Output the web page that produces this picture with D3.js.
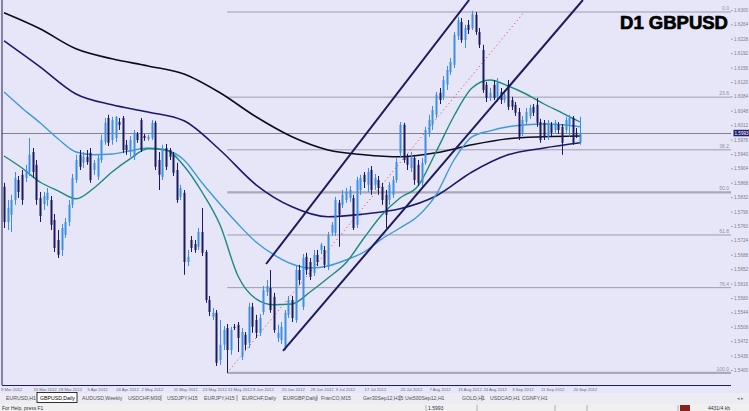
<!DOCTYPE html>
<html><head><meta charset="utf-8">
<script src="https://cdn.jsdelivr.net/npm/d3@7"></script>
<style>html,body{margin:0;padding:0;background:#e6e6f8;overflow:hidden}svg{display:block}</style>
</head><body><svg id="c" width="749" height="411"></svg>
<script>
// ---------- data ----------
const opens=[1.5858,1.5770,1.5788,1.5825,1.5875,1.5888,1.5880,1.5895,1.5945,1.5913,
1.5830,1.5815,1.5825,1.5825,1.5775,1.5725,1.5700,1.5738,1.5770,1.5813,
1.5875,1.5938,1.5918,1.5933,1.5943,1.5900,1.5883,1.5925,1.5970,1.6030,
1.5975,1.5980,1.6020,1.6030,1.5963,1.5945,1.5933,1.5990,1.6025,1.5985,
1.5978,1.5980,1.6018,1.5925,1.5883,1.5955,1.5950,1.5938,1.5900,1.5833,
1.5843,1.5670,1.5725,1.5715,1.5708,1.5745,1.5695,1.5575,1.5533,1.5543,
1.5425,1.5463,1.5505,1.5450,1.5508,1.5513,1.5433,1.5488,1.5468,1.5558,
1.5525,1.5493,1.5545,1.5595,1.5605,1.5583,1.5480,1.5475,1.5458,1.5538,
1.5575,1.5525,1.5650,1.5558,1.5683,1.5670,1.5643,1.5688,1.5700,1.5700,
1.5658,1.5743,1.5743,1.5818,1.5813,1.5825,1.5830,1.5830,1.5763,1.5850,
1.5888,1.5863,1.5900,1.5863,1.5875,1.5858,1.5838,1.5825,1.5838,1.5875,
1.5943,1.6013,1.5933,1.5905,1.5930,1.5913,1.5868,1.5918,1.5993,1.6013,
1.6038,1.6093,1.6083,1.6113,1.6145,1.6163,1.6235,1.6270,1.6225,1.6263,
1.6255,1.6288,1.6245,1.6200,1.6113,1.6080,1.6113,1.6083,1.6095,1.6075,
1.6113,1.6075,1.6063,1.6045,1.5993,1.6020,1.6035,1.6058,1.6063,1.6020,
1.6018,1.5983,1.6013,1.6000,1.6013,1.6008,1.6000,1.6013,1.6030,1.5993,
1.5968];
const highs=[1.5868,1.5825,1.5838,1.5895,1.5885,1.5900,1.5913,1.5980,1.5955,1.5925,
1.5845,1.5845,1.5855,1.5835,1.5790,1.5750,1.5765,1.5780,1.5825,1.5890,
1.5938,1.5950,1.5945,1.5950,1.5955,1.5925,1.5938,1.5988,1.6030,1.6038,
1.6033,1.6035,1.6030,1.6035,1.5975,1.5985,1.6000,1.5995,1.6030,1.5990,
1.5988,1.6025,1.6023,1.5945,1.5963,1.5965,1.5955,1.5945,1.5918,1.5863,
1.5850,1.5700,1.5735,1.5725,1.5755,1.5805,1.5700,1.5585,1.5555,1.5550,
1.5525,1.5510,1.5515,1.5508,1.5515,1.5520,1.5505,1.5495,1.5568,1.5568,
1.5538,1.5540,1.5610,1.5625,1.5650,1.5593,1.5513,1.5520,1.5550,1.5585,
1.5585,1.5660,1.5663,1.5690,1.5693,1.5680,1.5700,1.5700,1.5718,1.5710,
1.5745,1.5770,1.5833,1.5825,1.5850,1.5855,1.5860,1.5838,1.5883,1.5888,
1.5895,1.5905,1.5910,1.5890,1.5885,1.5868,1.5850,1.5870,1.5885,1.5930,
1.6020,1.6018,1.5940,1.5945,1.5938,1.5925,1.5930,1.6008,1.6038,1.6060,
1.6095,1.6105,1.6135,1.6160,1.6180,1.6245,1.6283,1.6280,1.6263,1.6275,
1.6298,1.6295,1.6255,1.6213,1.6120,1.6105,1.6125,1.6130,1.6105,1.6100,
1.6125,1.6083,1.6070,1.6055,1.6035,1.6055,1.6063,1.6065,1.6080,1.6028,
1.6025,1.6025,1.6020,1.6025,1.6020,1.6015,1.6033,1.6038,1.6035,1.6005,
1.6033];
const lows=[1.5755,1.5750,1.5745,1.5813,1.5830,1.5813,1.5870,1.5885,1.5880,1.5813,
1.5770,1.5800,1.5810,1.5750,1.5695,1.5680,1.5685,1.5730,1.5760,1.5805,
1.5868,1.5900,1.5905,1.5913,1.5868,1.5888,1.5875,1.5918,1.5963,1.5960,
1.5963,1.5970,1.6000,1.5943,1.5938,1.5933,1.5925,1.5968,1.5945,1.5973,
1.5973,1.5975,1.5900,1.5850,1.5875,1.5900,1.5925,1.5885,1.5818,1.5825,
1.5638,1.5660,1.5695,1.5693,1.5700,1.5685,1.5568,1.5535,1.5525,1.5410,
1.5413,1.5450,1.5393,1.5438,1.5500,1.5445,1.5425,1.5450,1.5455,1.5493,
1.5480,1.5485,1.5538,1.5585,1.5543,1.5493,1.5470,1.5465,1.5450,1.5530,
1.5520,1.5518,1.5613,1.5550,1.5638,1.5625,1.5635,1.5660,1.5690,1.5655,
1.5650,1.5735,1.5735,1.5708,1.5805,1.5818,1.5820,1.5750,1.5755,1.5838,
1.5855,1.5845,1.5838,1.5850,1.5838,1.5813,1.5755,1.5813,1.5830,1.5868,
1.5930,1.5918,1.5900,1.5895,1.5863,1.5860,1.5860,1.5913,1.5983,1.6000,
1.6030,1.6065,1.6075,1.6100,1.6138,1.6155,1.6225,1.6218,1.6205,1.6240,
1.6250,1.6238,1.6205,1.6093,1.6070,1.6073,1.6075,1.6070,1.6065,1.6068,
1.6050,1.6050,1.6035,1.5975,1.5985,1.6013,1.6028,1.6035,1.6008,1.5968,
1.5975,1.5975,1.5985,1.5993,1.5990,1.5938,1.5993,1.5983,1.5963,1.5980,
1.5963];
const closes=[1.5770,1.5805,1.5825,1.5880,1.5845,1.5825,1.5900,1.5938,1.5895,1.5825,
1.5785,1.5835,1.5843,1.5763,1.5705,1.5688,1.5755,1.5770,1.5813,1.5880,
1.5925,1.5908,1.5933,1.5920,1.5875,1.5918,1.5930,1.5975,1.6018,1.5968,
1.6025,1.6033,1.6013,1.5950,1.5950,1.5975,1.5993,1.5975,1.5950,1.5980,
1.5983,1.6018,1.5908,1.5888,1.5955,1.5908,1.5933,1.5893,1.5825,1.5855,
1.5670,1.5683,1.5705,1.5700,1.5745,1.5693,1.5575,1.5545,1.5543,1.5418,
1.5463,1.5500,1.5450,1.5500,1.5505,1.5480,1.5495,1.5463,1.5558,1.5508,
1.5493,1.5530,1.5600,1.5610,1.5550,1.5500,1.5493,1.5508,1.5543,1.5575,
1.5530,1.5650,1.5625,1.5680,1.5650,1.5633,1.5688,1.5670,1.5713,1.5663,
1.5738,1.5763,1.5825,1.5788,1.5838,1.5845,1.5850,1.5755,1.5875,1.5880,
1.5870,1.5895,1.5850,1.5880,1.5855,1.5825,1.5788,1.5863,1.5875,1.5920,
1.6013,1.5925,1.5913,1.5933,1.5875,1.5868,1.5918,1.6000,1.6025,1.6050,
1.6088,1.6075,1.6125,1.6150,1.6170,1.6238,1.6275,1.6225,1.6255,1.6250,
1.6290,1.6245,1.6213,1.6100,1.6080,1.6093,1.6080,1.6118,1.6075,1.6088,
1.6058,1.6058,1.6043,1.5983,1.6025,1.6045,1.6055,1.6043,1.6018,1.5975,
1.5983,1.6018,1.5993,1.6018,1.6000,1.5968,1.6025,1.6030,1.5968,1.5988,
1.5993];

// moving averages (sampled bar index -> price)
const maSlowIdx=[0,10,20,30,40,50,60,70,80,90,100,110,120,130,140,150,160];
const maBlack=[1.6293,1.6253,1.6203,1.6178,1.6160,1.6140,1.6093,1.6033,1.5983,1.5950,1.5938,1.5933,1.5943,1.5963,1.5978,1.5983,1.5985];
const maNavy=[1.6223,1.6158,1.6090,1.6063,1.6045,1.6023,1.5950,1.5863,1.5808,1.5783,1.5790,1.5803,1.5835,1.5895,1.5938,1.5955,1.5968];
const maFastIdx=[0,5,10,15,20,25,30,35,40,45,50,55,60,65,70,75,80,85,90,95,100,105,110,115,120,125,130,135,140,145,150,155,160];
const maLightBlue=[1.6095,1.6055,1.6018,1.5978,1.5945,1.5938,1.5940,1.5948,1.5955,1.5950,1.5925,1.5868,1.5815,1.5765,1.5720,1.5688,1.5665,1.5655,1.5660,1.5675,1.5695,1.5728,1.5755,1.5785,1.5838,1.5925,1.5983,1.5998,1.6008,1.6013,1.6015,1.6013,1.6008];
const maTeal=[1.5935,1.5905,1.5870,1.5848,1.5828,1.5855,1.5895,1.5928,1.5953,1.5950,1.5910,1.5845,1.5763,1.5635,1.5578,1.5563,1.5565,1.5595,1.5630,1.5668,1.5730,1.5788,1.5830,1.5860,1.5945,1.6035,1.6105,1.6125,1.6110,1.6090,1.6065,1.6043,1.6020];

// channel trend lines [barIndex, price]
const channelUpper=[[72.8,1.5665],[129.2,1.6325]];
const channelLower=[[77.5,1.5448],[160.8,1.6325]];
// fibonacci anchors and levels
const fibLow=[62,1.5393], fibHigh=[144.5,1.6295];
const fibLevels=[0,23.6,38.2,50,61.8,76.4,100];
const fibLabels=["0.0","23.6","38.2","50.0","61.8","76.4","100.0"];

const priceTicks=[1.6300,1.6264,1.6228,1.6192,1.6156,1.6120,1.6084,1.6048,1.6012,1.5976,1.5940,1.5904,1.5868,1.5832,1.5796,1.5760,1.5724,1.5688,1.5652,1.5616,1.5580,1.5544,1.5508,1.5472,1.5436,1.5400];
const dateIdx=[0,9,16,24,32,39,48,56,63,70,78,86,93,101,111,119,127,134,142,150,159];
const dateLabels=["9 Mar 2012","15 Mar 2012","28 Mar 2012","5 Apr 2012","24 Apr 2012","2 May 2012","11 May 2012","23 May 2012","31 May 2012","8 Jun 2012","20 Jun 2012","28 Jun 2012","9 Jul 2012","17 Jul 2012","26 Jul 2012","7 Aug 2012","15 Aug 2012","24 Aug 2012","3 Sep 2012","11 Sep 2012","20 Sep 2012"];
const tabs=["EURUSD,H1","GBPUSD,Daily","AUDUSD,Weekly","USDCHF,M30","USDJPY,H15","EURJPY,H15","EURCHF,Daily","EURGBP,Daily","FranCO,M15","Ger30Sep12,H15","Ust500Sep12,H1","GOLD,H1","USDCAD,H1","CGNFY,H1"];
const tabX=[6,40,82,128,167,204,242,283,321,363,405,462,490,522];
const tabSep=[161,237,317,400,482];

// ---------- drawing ----------
const svg=d3.select('#c');
const R=731, B=385;
const x=d3.scaleLinear().domain([0,160]).range([4,580]);
const y=d3.scaleLinear().domain([1.53625,1.6325]).range([B,0]);
const font="'Liberation Sans',Arial,sans-serif";

svg.append('rect').attr('width',749).attr('height',411).attr('fill','#e6e6f8');
svg.append('defs').append('clipPath').attr('id','clip').append('rect').attr('x',2).attr('y',0).attr('width',R-2).attr('height',B);
const g=svg.append('g').attr('clip-path','url(#clip)');

// fib levels
const fibY=r=>fibHigh[1]-r/100*(fibHigh[1]-fibLow[1]);
fibLevels.forEach((r,k)=>{
  const thick=(r===50||r===100);
  g.append('line').attr('x1',x(fibLow[0])).attr('x2',R).attr('y1',y(fibY(r))).attr('y2',y(fibY(r)))
   .attr('stroke',thick?'#a9a9b8':'#9c9cae').attr('stroke-width',thick?2.2:1);
  svg.append('text').attr('x',R-2).attr('y',y(fibY(r))-2).attr('text-anchor','end')
   .attr('font-family',font).attr('font-size',5).attr('fill','#9090a0').text(fibLabels[k]);
});
// bid line
const bidY=Math.round(y(closes[closes.length-1]))+0.5;
g.append('line').attr('x1',0).attr('x2',R).attr('y1',bidY).attr('y2',bidY).attr('stroke','#80808e').attr('stroke-width',1);
// fib diagonal
g.append('line').attr('x1',x(fibLow[0])).attr('y1',y(fibLow[1])).attr('x2',x(fibHigh[0])).attr('y2',y(fibHigh[1]))
 .attr('stroke','#e03030').attr('stroke-width',1).attr('stroke-dasharray','1,3');

// moving averages
const ln=d3.line().x(d=>x(d[0])).y(d=>y(d[1])).curve(d3.curveMonotoneX);
const mk=(idx,vals)=>idx.map((v,i)=>[v,vals[i]]);
g.append('path').attr('d',ln(mk(maSlowIdx,maBlack))).attr('fill','none').attr('stroke','#0c0c18').attr('stroke-width',1.6);
g.append('path').attr('d',ln(mk(maSlowIdx,maNavy))).attr('fill','none').attr('stroke','#1a1a6a').attr('stroke-width',1.6);
g.append('path').attr('d',ln(mk(maFastIdx,maLightBlue))).attr('fill','none').attr('stroke','#3e9ad6').attr('stroke-width',1.4);
g.append('path').attr('d',ln(mk(maFastIdx,maTeal))).attr('fill','none').attr('stroke','#1c8a7c').attr('stroke-width',1.4);

// candles
const bars=d3.range(opens.length).map(i=>({i,o:opens[i],h:highs[i],l:lows[i],c:closes[i]}));
const bull='#3d8fe6', bear='#1a1a5e';
g.selectAll('line.wick').data(bars).join('line').attr('class','wick')
 .attr('x1',d=>Math.round(x(d.i))+0.5).attr('x2',d=>Math.round(x(d.i))+0.5)
 .attr('y1',d=>y(d.h)).attr('y2',d=>y(d.l))
 .attr('stroke',d=>d.c>=d.o?bull:bear).attr('stroke-width',1);
g.selectAll('rect.body').data(bars).join('rect').attr('class','body')
 .attr('x',d=>Math.round(x(d.i))-0.5).attr('width',2)
 .attr('y',d=>y(Math.max(d.o,d.c))).attr('height',d=>Math.max(1,Math.abs(y(d.o)-y(d.c))))
 .attr('fill',d=>d.c>=d.o?bull:bear);

// channel lines
[channelUpper,channelLower].forEach(c=>{
  g.append('line').attr('x1',x(c[0][0])).attr('y1',y(c[0][1])).attr('x2',x(c[1][0])).attr('y2',y(c[1][1]))
   .attr('stroke','#1c1c5a').attr('stroke-width',2);
});

// frame
svg.append('line').attr('x1',2).attr('x2',2).attr('y1',0).attr('y2',B).attr('stroke','#20204a').attr('stroke-width',1);
svg.append('line').attr('x1',2).attr('x2',R).attr('y1',B+0.5).attr('y2',B+0.5).attr('stroke','#20204a').attr('stroke-width',1);

// right axis
const ax=svg.append('g').attr('transform',`translate(${R},0)`)
 .call(d3.axisRight(y).tickValues(priceTicks).tickFormat(d3.format('.4f')).tickSize(1.5).tickPadding(1.5));
ax.select('.domain').remove();
ax.selectAll('line').attr('stroke','#9090a0');
ax.selectAll('text').attr('font-family',font).attr('font-size',4.6).attr('fill','#7c7c90');
// bid label
const by=y(closes[closes.length-1]);
svg.append('rect').attr('x',733.5).attr('y',by-3).attr('width',15.5).attr('height',6.5).attr('fill','#1e1e6e');
svg.append('text').attr('x',734.5).attr('y',by+1.8).attr('font-family',font).attr('font-size',4.6).attr('fill','#ffffff').text(d3.format('.4f')(closes[closes.length-1]));

// title
svg.append('text').attr('x',728).attr('y',29).attr('text-anchor','end').attr('font-family',font)
 .attr('font-weight','bold').attr('font-size',18.5).attr('fill','#000').attr('stroke','#000').attr('stroke-width',0.7).text('D1 GBPUSD');

// date labels
dateIdx.forEach((di,k)=>{
  svg.append('text').attr('x',Math.max(1,x(di)-3)).attr('y',391).attr('font-family',font).attr('font-size',4.2).attr('fill','#6a6a80').text(dateLabels[k]);
});

// tab bar
svg.append('rect').attr('x',0).attr('y',393).attr('width',749).attr('height',18).attr('fill','#ececf2');
svg.append('rect').attr('x',37).attr('y',392.5).attr('width',40).attr('height',10).attr('fill','#ffffff').attr('stroke','#000').attr('stroke-width',0.8);
tabs.forEach((t,k)=>{
  svg.append('text').attr('x',tabX[k]).attr('y',400).attr('font-family',font).attr('font-size',5.2).attr('fill',k===1?'#000':'#505064').text(t);
});
tabSep.forEach(s=>svg.append('line').attr('x1',s).attr('x2',s).attr('y1',395).attr('y2',401).attr('stroke','#707080').attr('stroke-width',0.7));
svg.append('text').attr('x',737).attr('y',400).attr('font-family',font).attr('font-size',5).attr('fill','#808090').text('◂ ▸');

// status bar
svg.append('rect').attr('x',0).attr('y',404).attr('width',749).attr('height',7).attr('fill','#f0f0f0');
svg.append('text').attr('x',2).attr('y',410).attr('font-family',font).attr('font-size',5).attr('fill','#303040').text('For Help, press F1');
[426,477,555,587,678].forEach(s=>svg.append('line').attr('x1',s).attr('x2',s).attr('y1',405).attr('y2',411).attr('stroke','#a0a0a8').attr('stroke-width',0.8));
svg.append('text').attr('x',428).attr('y',410).attr('font-family',font).attr('font-size',5).attr('fill','#303040').text('1.5993');
svg.append('rect').attr('x',680).attr('y',405).attr('width',10).attr('height',6).attr('fill','#8a2020');
svg.append('text').attr('x',708).attr('y',410).attr('font-family',font).attr('font-size',5).attr('fill','#303040').text('4431/4 kb');
</script></body></html>
